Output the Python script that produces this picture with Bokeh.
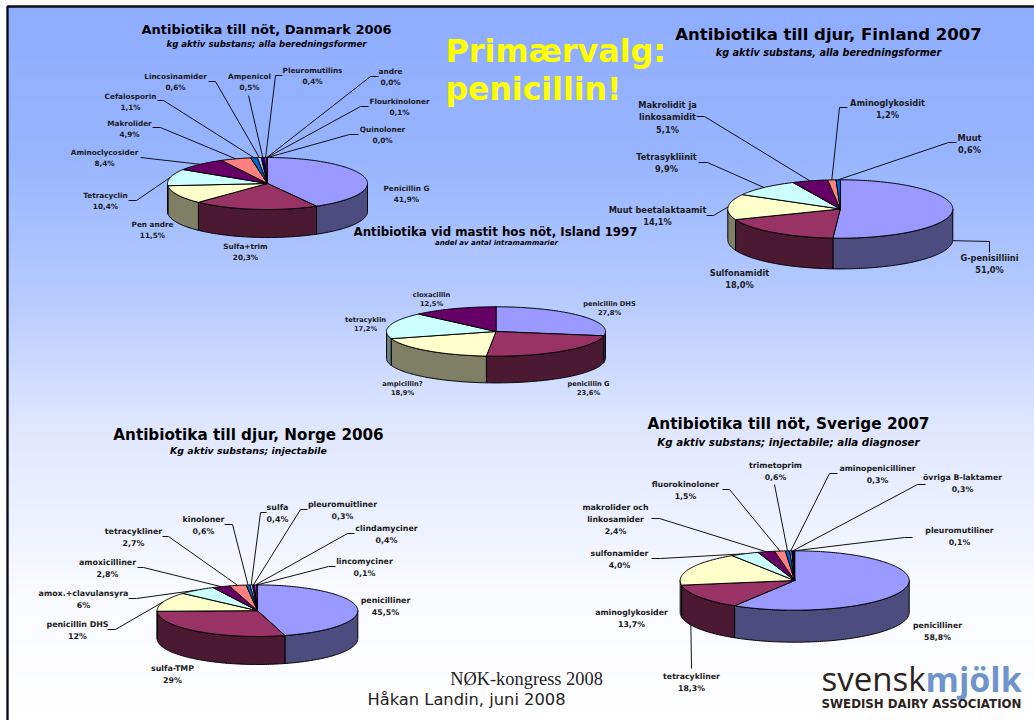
import math
from bokeh.plotting import figure
from bokeh.embed import file_html
from bokeh.resources import INLINE
from bokeh.core.properties import value

# ---------- data ----------
DK_CATS = ["Penicillin G", "Sulfa+trim", "Pen andre", "Tetracyclin", "Aminoclycosider", "Makrolider", "Cefalosporin",
           "Lincosinamider", "Ampenicol", "Pleuromutilins", "andre", "Flourkinoloner", "Quinoloner"]
DK_VALS = [41.9, 20.3, 11.5, 10.4, 8.4, 4.9, 1.1, 0.6, 0.5, 0.4, 0.0, 0.1, 0.0]
DK_PCT = ["41,9%", "20,3%", "11,5%", "10,4%", "8,4%", "4,9%", "1,1%", "0,6%", "0,5%", "0,4%", "0,0%", "0,1%", "0,0%"]

FI_CATS = ["G-penisilliini", "Sulfonamidit", "Muut beetalaktaamit", "Tetrasykliinit", "Makrolidit ja\nlinkosamidit",
           "Aminoglykosidit", "Muut"]
FI_VALS = [51.0, 18.0, 14.1, 9.9, 5.1, 1.2, 0.6]
FI_PCT = ["51,0%", "18,0%", "14,1%", "9,9%", "5,1%", "1,2%", "0,6%"]

IS_CATS = ["penicillin DHS", "penicillin G", "ampicillin?", "tetracyklin", "cloxacillin"]
IS_VALS = [27.8, 23.6, 18.9, 17.2, 12.5]
IS_PCT = ["27,8%", "23,6%", "18,9%", "17,2%", "12,5%"]

NO_CATS = ["penicilliner", "sulfa-TMP", "penicillin DHS", "amox.+clavulansyra", "amoxicilliner", "tetracykliner",
           "kinoloner", "sulfa", "pleuromuitliner", "clindamyciner", "lincomyciner"]
NO_VALS = [45.5, 29.0, 12.0, 6.0, 2.8, 2.7, 0.6, 0.4, 0.3, 0.4, 0.1]
NO_PCT = ["45,5%", "29%", "12%", "6%", "2,8%", "2,7%", "0,6%", "0,4%", "0,3%", "0,4%", "0,1%"]

SE_CATS = ["penicilliner", "aminoglykosider", "tetracykliner", "sulfonamider", "makrolider och\nlinkosamider",
           "fluorokinoloner", "trimetoprim", "aminopenicilliner", "övriga B-laktamer", "pleuromutiliner"]
SE_VALS = [58.8, 13.7, 18.3, 4.0, 2.4, 1.5, 0.6, 0.3, 0.3, 0.1]
SE_PCT = ["58,8%", "13,7%", "18,3%", "4,0%", "2,4%", "1,5%", "0,6%", "0,3%", "0,3%", "0,1%"]

PALETTE = ["#9999FF", "#993366", "#FFFFCC", "#CCFFFF", "#660066", "#FF8080", "#0066CC", "#CCCCFF",
           "#000080", "#FF00FF", "#FFFF00", "#00FFFF", "#800080"]

# ---------- layout (reference pixel coordinates) ----------
DK_LAB = [(406, 188, None), (245, 246, None), (152, 224, None), (105, 195, [(128, 200), (136, 200)]),
          (104, 152, [(140, 157), (140, 157)]), (129, 123, [(152, 127), (160, 127)]), (130, 96, [(157, 100), (163, 100)]),
          (175, 76, [(208, 81), (215, 81)]), (249, 76, [(248, 95), (248, 95)]), (312, 70, [(282, 75), (275, 75)]),
          (390, 71, [(378, 76), (370, 76)]), (399, 101, [(368, 106), (360, 106)]), (382, 129, [(358, 134), (349, 134)])]
FI_LAB = [(989, 257, [(989, 252), (989, 241)]), (739, 272, None), (657, 209, [(706, 215), (713, 215)]),
          (666, 156, [(698, 162), (707, 162)]), (667, 104, [(696, 116), (704, 116)]),
          (887, 102, [(847, 107), (839, 107)]), (969, 137, [(956, 142), (948, 142)])]
IS_LAB = [(609, 303, None), (588, 383, None), (402, 383, None), (365, 319, None), (431, 294, None)]
NO_LAB = [(385, 600, None), (172, 668, None), (77, 624, [(107, 629), (115, 629)]), (83, 593, [(128, 598), (136, 598)]),
          (107, 562, [(137, 567), (143, 567)]), (133, 531, [(162, 536), (168, 536)]), (203, 519, [(224, 524), (232, 524)]),
          (277, 507, [(266, 512), (260, 512)]), (342, 504, [(307, 509), (300, 509)]),
          (386, 528, [(354, 533), (347, 533)]), (364, 561, [(335, 566), (328, 566)])]
SE_LAB = [(937, 625, None), (631, 612, None), (691, 676, [(691, 668), (691, 668)]), (619, 553, [(651, 558), (660, 558)]),
          (615, 507, [(651, 518), (659, 518)]), (685, 484, [(722, 489), (729, 489)]), (775, 465, [(774, 484), (774, 484)]),
          (877, 468, [(837, 473), (829, 473)]), (962, 477, [(925, 484), (917, 484)]), (959, 530, [(912, 537), (904, 537)])]

W, H = 1034, 720
p = figure(width=W, height=H, x_range=(0, W), y_range=(H, 0), output_backend="svg",
           toolbar_location=None, min_border=0, outline_line_color=None, background_fill_color="white",
           border_fill_color="white")
p.xaxis.visible = False
p.yaxis.visible = False
p.grid.visible = False

FONT = "DejaVu Sans"
INK = "#1a1a1a"

# ---------- background ----------
STOPS = [(5, (143, 173, 255)), (150, (150, 180, 255)), (300, (183, 203, 255)), (420, (222, 230, 255)),
         (600, (250, 251, 255)), (720, (255, 255, 255))]


def bg(y):
    for (a, ca), (b, cb) in zip(STOPS, STOPS[1:]):
        if a <= y <= b:
            t = (y - a) / (b - a)
            return "#%02X%02X%02X" % tuple(round(u + (v - u) * t) for u, v in zip(ca, cb))
    return "#FFFFFF"


rows = list(range(6, 720, 2))
p.quad(left=7, right=W, top=rows, bottom=[r + 3 for r in rows], fill_color=[bg(r) for r in rows], line_color=None)
p.line([7, 7, W], [H, 6, 6], line_color="#0d0d1a", line_width=2.4)


def shade(c):
    r, g, b = int(c[1:3], 16), int(c[3:5], 16), int(c[5:7], 16)
    return "#%02X%02X%02X" % (r // 2, g // 2, b // 2)


def text(x, y, s, size, style="bold", color=INK, font=FONT, align="center"):
    p.text([x], [y], text=[s], text_font=value(font), text_font_size=f"{size}px", text_font_style=style,
           text_align=align, text_baseline="middle", text_color=color)


def pie(vals, cats, pct, lab, cx, cy, rx, ry, depth, size=8.0, lh=None, wall_anchor=None):
    total = sum(vals)
    wall_anchor = wall_anchor or {}
    lh = lh or size * 1.45
    acc = 0.0
    spans = []
    for v in vals:
        spans.append((acc / total * 360, (acc + v) / total * 360))
        acc += v

    def pt(t, drop=0):
        r = math.radians(t)
        return cx + rx * math.sin(r), cy - ry * math.cos(r) + drop

    for i, (a, b) in enumerate(spans):
        pts = lab[i][2]
        if pts:
            rim = pt((a + b) / 2, depth if i in wall_anchor else 0)
            p.line([q[0] for q in pts] + [rim[0]], [q[1] for q in pts] + [rim[1]], line_color="#111111", line_width=1)

    for i, (a, b) in enumerate(spans):
        lo, hi = max(a, 90), min(b, 270)
        if hi <= lo:
            continue
        n = max(2, int(hi - lo) + 1)
        ts = [lo + (hi - lo) * k / (n - 1) for k in range(n)]
        pp = [pt(t) for t in ts] + [pt(t, depth) for t in reversed(ts)]
        p.patch([q[0] for q in pp], [q[1] for q in pp], fill_color=shade(PALETTE[i % len(PALETTE)]),
                line_color="black", line_width=1)

    for i, (a, b) in enumerate(spans):
        if b - a <= 0:
            continue
        n = max(2, int(b - a) + 2)
        ts = [a + (b - a) * k / (n - 1) for k in range(n)]
        pp = [(cx, cy)] + [pt(t) for t in ts]
        p.patch([q[0] for q in pp], [q[1] for q in pp], fill_color=PALETTE[i % len(PALETTE)],
                line_color="black", line_width=1)

    for i, c in enumerate(cats):
        x, y, _ = lab[i]
        for k, s in enumerate(c.split("\n") + [pct[i]]):
            text(x, y + k * lh, s, size)


pie(DK_VALS, DK_CATS, DK_PCT, DK_LAB, 267, 183, 100, 26, 28, size=7.3, lh=11.2)
pie(FI_VALS, FI_CATS, FI_PCT, FI_LAB, 839.8, 208.5, 112.5, 29.2, 30.7, size=8.25, lh=12.8, wall_anchor={0})
pie(IS_VALS, IS_CATS, IS_PCT, IS_LAB, 495.5, 331, 109.5, 24.7, 26.7, size=6.7, lh=9.3)
pie(NO_VALS, NO_CATS, NO_PCT, NO_LAB, 257, 610.2, 100.3, 25.8, 28, size=7.9, lh=11.5)
pie(SE_VALS, SE_CATS, SE_PCT, SE_LAB, 794.2, 580, 114.5, 29.7, 32, size=7.8, lh=11.8)

# ---------- titles ----------
text(266, 29, "Antibiotika till nöt, Danmark 2006", 13, color="black")
text(266, 43, "kg aktiv substans; alla beredningsformer", 8.6, style="bold italic", color="black")
text(828, 34, "Antibiotika till djur, Finland 2007", 16.5, color="black")
text(828, 52, "kg aktiv substans, alla beredningsformer", 9.7, style="bold italic", color="black")
text(495, 231, "Antibiotika vid mastit hos nöt, Island 1997", 11.8, color="black")
text(496, 242, "andel av antal intramammarier", 7, style="bold italic", color="black")
text(248, 434, "Antibiotika till djur, Norge 2006", 15.2, color="black")
text(248, 450, "Kg aktiv substans; injectabile", 9.4, style="bold italic", color="black")
text(788, 423, "Antibiotika till nöt, Sverige 2007", 15.3, color="black")
text(788, 441, "Kg aktiv substans; injectabile; alla diagnoser", 10.3, style="bold italic", color="black")

# ---------- banner, footer, logo ----------
text(445, 50, "Primærvalg:", 31.8, color="#FFFF00", align="left")
text(445, 88, "penicillin!", 31.5, color="#FFFF00", align="left")
text(526, 678, "NØK-kongress 2008", 18.4, style="normal", color="#222222", font="Liberation Serif")
text(466, 699, "Håkan Landin, juni 2008", 16.3, style="normal", color="#222222")
text(821, 678, "svensk", 33, style="normal", color="#2b2320", font="Open Sans", align="left")
text(925, 678, "mjölk", 34, color="#6f93cc", font="Open Sans", align="left")
text(921, 703, "SWEDISH DAIRY ASSOCIATION", 11.8, color="#2b2320")

open("out.html", "w").write(file_html(p, INLINE))
